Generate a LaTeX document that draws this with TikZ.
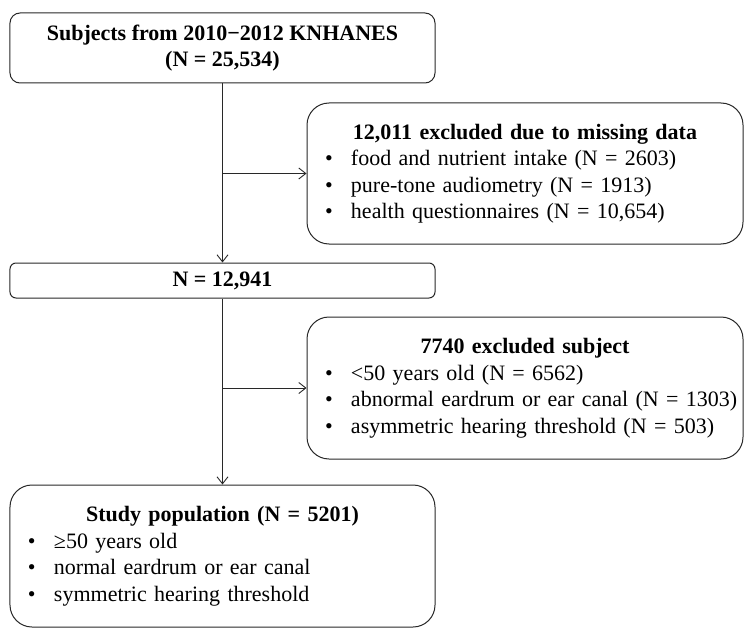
\documentclass[tikz,border=0pt]{standalone}
\usepackage{fontspec}
\setmainfont{Liberation Serif}
\usetikzlibrary{positioning,arrows.meta}
\definecolor{colorline}{RGB}{40,40,40}
\newcommand{\bul}{\hspace*{16pt}\makebox[26pt][l]{\textbullet}}

\begin{document}
\begin{tikzpicture}[
    node distance = 19pt,
    font={\fontsize{22pt}{26.5pt}\selectfont},
    stage/.style={draw=colorline,line width=1pt,rounded corners=10pt,minimum width=425pt,inner sep=0pt,align=center,font={\fontsize{22pt}{26.5pt}\selectfont\bfseries}},
    exclusion/.style={draw=colorline,line width=1pt,rounded corners=22pt,inner xsep=2pt,inner ysep=0pt,align=left,text width=432pt,minimum height=141pt},
    flow/.style={-{Straight Barb[length=7pt,width=11pt]},line width=0.9pt,draw=colorline},
]

    \useasboundingbox (-222.5pt,48pt) rectangle (531.5pt,-583pt);

    % Stages
    \node[stage,minimum height=70pt] (start) at (0,0) {Subjects from 2010−2012 KNHANES\\(N = 25,534)};
    \node[stage,minimum height=35pt,rounded corners=6pt,below=179pt of start] (mid) {N = 12,941};
    \node[exclusion,text width=421pt,minimum height=142pt,below=186pt of mid] (final) {\makebox[\hsize]{\bfseries Study population (N = 5201)}\\
        \bul ≥50 years old\\
        \bul normal eardrum or ear canal\\
        \bul symmetric hearing threshold};

    % Exclusions
    \node[exclusion,below right=19pt and -129pt of start] (missing) {\makebox[\hsize]{\bfseries 12,011 excluded due to missing data}\\
        \bul food and nutrient intake (N = 2603)\\
        \bul pure-tone audiometry (N = 1913)\\
        \bul health questionnaires (N = 10,654)};
    \node[exclusion,minimum height=142pt,below right=18pt and -129pt of mid] (criteria) {\makebox[\hsize]{\bfseries 7740 excluded subject}\\
        \bul <50 years old (N = 6562)\\
        \bul abnormal eardrum or ear canal (N = 1303)\\
        \bul asymmetric hearing threshold (N = 503)};

    \coordinate (split1) at (start.south |- missing.west);
    \coordinate (split2) at (mid.south |- criteria.west);

    % Flow
    \draw[flow] (start) -- (mid);
    \draw[flow] (mid) -- (final);
    \draw[flow] (split1) -- (missing);
    \draw[flow] (split2) -- (criteria);

\end{tikzpicture}
\end{document}
